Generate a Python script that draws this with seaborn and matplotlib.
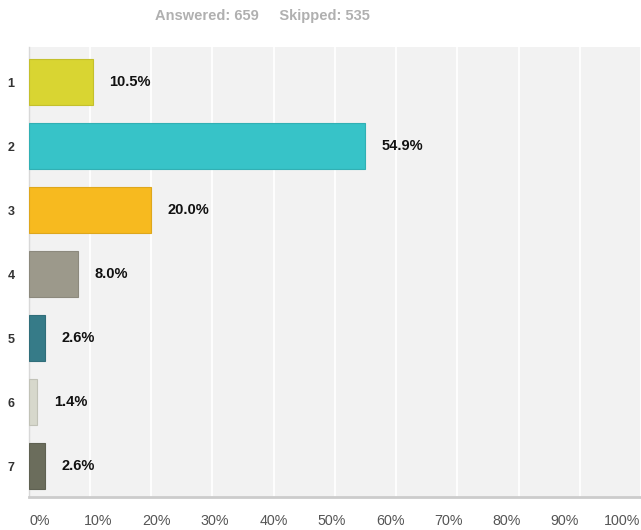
import matplotlib
matplotlib.use("Agg")
import matplotlib.pyplot as plt
import matplotlib.transforms as mtransforms
import seaborn as sns
import pandas as pd

categories = ["1", "2", "3", "4", "5", "6", "7"]
percentages = [10.5, 54.9, 20.0, 8.0, 2.6, 1.4, 2.6]
bar_colors = ["#d9d532", "#37c3c8", "#f7ba1f", "#9c998b", "#367b88", "#d7d8cc", "#6b6d5c"]
edge_colors = ["#c4c02d", "#31b0b4", "#dea71c", "#8c897d", "#306e7a", "#c1c2b7", "#5f6152"]
x_ticks = [0, 10, 20, 30, 40, 50, 60, 70, 80, 90, 100]
x_tick_labels = [f"{t}%" for t in x_ticks]
header = "Answered: 659     Skipped: 535"

sns.set_theme(style="white")
plt.rcParams["font.family"] = ["Liberation Sans", "DejaVu Sans"]

df = pd.DataFrame({"choice": categories, "pct": percentages})

fig = plt.figure(figsize=(6.41, 5.30), dpi=100)
ax = fig.add_axes([28.6 / 641, 33 / 530, 1 - 28.6 / 641, 450 / 530])
ax.set_facecolor("#f2f2f2")

sns.barplot(data=df, y="choice", x="pct", hue="choice", palette=bar_colors,
            saturation=1, orient="h", width=0.72, legend=False, ax=ax, zorder=3)
for patch, ec in zip(ax.patches, edge_colors):
    patch.set_edgecolor(ec)
    patch.set_linewidth(0.8)

ax.set_xlim(0, 100)
ax.set_ylim(6.48, -0.55)
ax.set_xticks(x_ticks)
ax.set_xticklabels(x_tick_labels, color="#555555", fontsize=10.3)
ax.xaxis.grid(True, color="white", linewidth=1.3, zorder=1)
ax.yaxis.grid(False)
ax.set_axisbelow(True)
ax.tick_params(axis="x", length=0, pad=12)
ax.tick_params(axis="y", length=0, pad=10)
for lbl in ax.get_yticklabels():
    lbl.set_fontweight("bold")
    lbl.set_color("#333333")
    lbl.set_fontsize(9)

# spread tick labels slightly narrower than the grid so the last one fits
for i, lbl in enumerate(ax.get_xticklabels()):
    dx_px = 11.4 - 2.9 * i
    if i == len(x_ticks) - 1:
        dx_px -= 1.5
    lbl.set_transform(lbl.get_transform() + mtransforms.ScaledTranslation(dx_px / 100, 0, fig.dpi_scale_trans))

ax.set_xlabel("")
ax.set_ylabel("")
for side in ["top", "right"]:
    ax.spines[side].set_visible(False)
ax.spines["left"].set_color("#d8d8d8")
ax.spines["left"].set_linewidth(1.0)
ax.spines["bottom"].set_color("#cccccc")
ax.spines["bottom"].set_linewidth(2.0)

for patch, val in zip(ax.patches, percentages):
    y = patch.get_y() + patch.get_height() / 2
    ax.annotate(f"{val:.1f}%", xy=(val, y), xytext=(12, 0), textcoords="offset points",
                ha="left", va="center", fontsize=10.5, fontweight="bold", color="#111111")

fig.text(262 / 641, 1 - 16 / 530, header, ha="center", va="center",
         fontsize=10.5, fontweight="bold", color="#b0b0b0")

fig.savefig("out.png", dpi=100, facecolor="white")
